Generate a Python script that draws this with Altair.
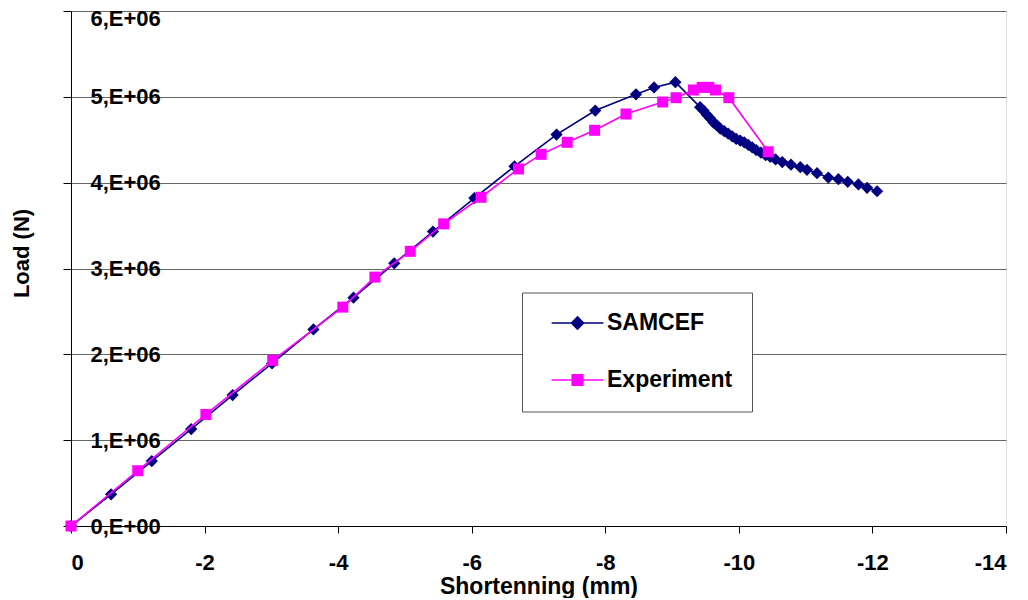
import altair as alt
import pandas as pd

# ---- data ----
samcef_x = [0, -0.60, -1.21, -1.80, -2.42, -3.01, -3.63, -4.23, -4.84, -5.42, -6.04,
            -6.64, -7.27, -7.85, -8.46, -8.73, -9.05,
            -9.42, -9.47, -9.52, -9.57, -9.62, -9.67, -9.72, -9.78, -9.84, -9.90,
            -9.96, -10.02, -10.08, -10.14, -10.20, -10.26, -10.33, -10.40, -10.47,
            -10.55, -10.65, -10.78, -10.92, -11.02, -11.17, -11.34, -11.49, -11.63,
            -11.79, -11.92, -12.07]
samcef_y = [0, 0.369e6, 0.757e6, 1.13e6, 1.525e6, 1.894e6, 2.29e6, 2.66e6, 3.06e6, 3.43e6, 3.82e6,
            4.19e6, 4.56e6, 4.84e6, 5.03e6, 5.11e6, 5.17e6,
            4.88e6, 4.84e6, 4.79e6, 4.75e6, 4.70e6, 4.67e6, 4.63e6, 4.60e6, 4.57e6, 4.54e6,
            4.51e6, 4.49e6, 4.47e6, 4.44e6, 4.41e6, 4.38e6, 4.35e6, 4.32e6, 4.30e6,
            4.27e6, 4.24e6, 4.21e6, 4.18e6, 4.15e6, 4.11e6, 4.06e6, 4.04e6, 4.01e6,
            3.98e6, 3.94e6, 3.90e6]

exp_x = [0, -1.0, -2.02, -3.02, -4.07, -4.55, -5.08, -5.58, -6.14, -6.70, -7.04,
         -7.43, -7.84, -8.31, -8.86, -9.06, -9.32, -9.45, -9.55, -9.65, -9.85, -10.44]
exp_y = [0, 0.644e6, 1.30e6, 1.93e6, 2.55e6, 2.90e6, 3.20e6, 3.52e6, 3.83e6, 4.16e6, 4.33e6,
         4.47e6, 4.61e6, 4.80e6, 4.94e6, 4.99e6, 5.08e6, 5.11e6, 5.11e6, 5.08e6, 4.99e6, 4.36e6]

series_names = ["SAMCEF", "Experiment"]
series_colors = ["#000080", "#FF00FF"]
x_ticks = [0, -2, -4, -6, -8, -10, -12, -14]
y_ticks = [0, 1e6, 2e6, 3e6, 4e6, 5e6, 6e6]

FONT = "Liberation Sans"

sam = pd.DataFrame({"x": samcef_x, "y": samcef_y, "series": "SAMCEF",
                    "i": range(len(samcef_x))})
exp = pd.DataFrame({"x": exp_x, "y": exp_y, "series": "Experiment",
                    "i": range(len(exp_x))})
both = pd.concat([sam, exp], ignore_index=True)

xenc = alt.X("x:Q", scale=alt.Scale(domain=[0, -14], nice=False),
             axis=alt.Axis(values=x_ticks, labelExpr="'' + datum.value",
                           title="Shortenning (mm)", grid=False,
                           domainColor="#000000", tickColor="#000000", tickSize=7,
                           labelFont=FONT, labelFontSize=22, labelFontWeight="bold",
                           labelColor="#000000", labelPadding=19,
                           titleFont=FONT, titleFontSize=23, titleFontWeight="bold",
                           titleColor="#000000", titleY=60, titleBaseline="middle"))
yenc = alt.Y("y:Q", scale=alt.Scale(domain=[0, 6e6], nice=False),
             axis=alt.Axis(values=y_ticks,
                           labelExpr="datum.value == 0 ? '0,E+00' : round(datum.value / 1e6) + ',E+06'",
                           title="Load (N)", grid=True, gridColor="#666666", gridWidth=1.2,
                           domainColor="#000000", tickColor="#000000", tickSize=8,
                           labelFont=FONT, labelFontSize=22, labelFontWeight="bold",
                           labelColor="#000000", labelAlign="left", labelBaseline="middle",
                           labelPadding=-27,
                           labelOffset={"condition": {"test": "datum.value == 6000000", "value": 7},
                                        "value": 0},
                           titleFont=FONT, titleFontSize=22, titleFontWeight="bold",
                           titleColor="#000000", titleX=-50, titleY=242,
                           titleAngle=-90, titleBaseline="middle", titleAlign="center"))

base_s = alt.Chart(sam)
base_e = alt.Chart(exp)

line_s = base_s.mark_line(color=series_colors[0], strokeWidth=1.6).encode(
    x=xenc, y=yenc, order="i:Q")
pts_s = base_s.mark_point(shape="diamond", filled=True, size=150, opacity=1,
                          color=series_colors[0], strokeWidth=0).encode(x=xenc, y=yenc)
line_e = base_e.mark_line(color=series_colors[1], strokeWidth=1.6).encode(
    x=xenc, y=yenc, order="i:Q")
pts_e = base_e.mark_point(shape="square", filled=True, size=121, opacity=1,
                          color=series_colors[1], strokeWidth=0).encode(x=xenc, y=yenc)

diamond_path = "M-3.7,0L3.7,0M-0.86,0L0,-0.86L0.86,0L0,0.86Z"
square_path = "M-3.7,0L3.7,0M-0.75,-0.75L0.75,-0.75L0.75,0.75L-0.75,0.75Z"

legend = alt.Legend(title=None, orient="none", legendX=451, legendY=281.5,
                    fillColor="#FFFFFF", strokeColor="#555555", padding=19,
                    labelFont=FONT, labelFontSize=23, labelFontWeight="bold",
                    labelColor="#000000", symbolSize=196, symbolStrokeWidth=1.6,
                    symbolOffset=25, labelOffset=18, rowPadding=33,
                    symbolOpacity=1,
                    labelExpr="datum.label + '\u00a0\u00a0\u00a0\u00a0\u00a0\u00a0\u00a0'")

leg_layer = alt.Chart(both).mark_point(filled=False, size=196, opacity=0).encode(
    x=xenc, y=yenc,
    color=alt.Color("series:N", scale=alt.Scale(domain=series_names, range=series_colors),
                    legend=legend),
    fill=alt.Fill("series:N", scale=alt.Scale(domain=series_names, range=series_colors),
                  legend=legend),
    shape=alt.Shape("series:N", scale=alt.Scale(domain=series_names,
                                                range=[diamond_path, square_path]),
                    legend=legend),
)

chart = alt.layer(line_s, pts_s, line_e, pts_e, leg_layer).properties(
    width=935, height=515,
    autosize=alt.AutoSizeParams(type="none"),
    padding={"left": 63, "top": 3, "right": 14, "bottom": 72},
).configure_view(stroke="#808080", strokeWidth=1).configure(background="#FFFFFF")

chart.save("out.html", embed_options={"renderer": "svg", "actions": False})
